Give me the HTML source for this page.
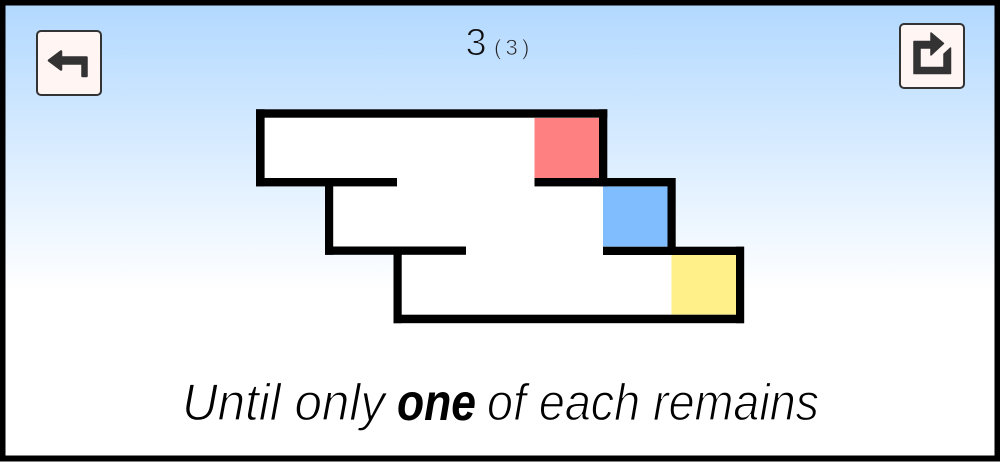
<!DOCTYPE html>
<html><head><meta charset="utf-8"><style>
html,body{margin:0;padding:0;width:1000px;height:462px;overflow:hidden;background:#fff}
svg{display:block}
text{font-family:"Liberation Sans",sans-serif}
</style></head><body>
<svg width="1000" height="462" viewBox="0 0 1000 462" xmlns="http://www.w3.org/2000/svg">
<defs><linearGradient id="g" x1="0" y1="0" x2="0" y2="1">
<stop offset="0" stop-color="#b1d8ff"/><stop offset="1" stop-color="#ffffff"/></linearGradient></defs>
<rect width="1000" height="462" fill="#fff"/>
<rect width="1000" height="292" fill="url(#g)"/>
<path fill="#fff" d="M260 113H603V182H671V250H740V319H398V250H329V182H260Z"/>
<rect x="534.5" y="118" width="64.5" height="60" fill="#ff8080"/>
<rect x="603" y="186.5" width="64.5" height="60" fill="#80bdff"/>
<rect x="671.5" y="255" width="64.5" height="59.5" fill="#fff08a"/>
<g fill="#000">
<rect x="256" y="109.3" width="351.3" height="8.4"/>
<rect x="256" y="109.3" width="8.6" height="77"/>
<rect x="256" y="178" width="141" height="8.4"/>
<rect x="325" y="178" width="8.2" height="76.8"/>
<rect x="325" y="246.5" width="141" height="8.3"/>
<rect x="393.5" y="246.5" width="8.2" height="76.7"/>
<rect x="393.5" y="314.7" width="350.5" height="8.5"/>
<rect x="599" y="109.3" width="8.3" height="77"/>
<rect x="534.5" y="178" width="141" height="8.4"/>
<rect x="667.5" y="178" width="8.2" height="77"/>
<rect x="603" y="246.7" width="141" height="8.3"/>
<rect x="736" y="246.7" width="8.2" height="76.5"/>
</g>
<rect x="37" y="31" width="64" height="64" rx="4" fill="#fff5f3" stroke="#333" stroke-width="2"/>
<path fill="#333" stroke="#333" stroke-width="2.5" stroke-linejoin="round" d="M49 60.5L61 51.5V57.5H86.5V76H82.5V63.5H61V69.5Z"/>
<rect x="900" y="24" width="64" height="64" rx="4" fill="#fff5f3" stroke="#333" stroke-width="2"/>
<path fill="#333" stroke="#333" stroke-width="1.5" stroke-linejoin="round" d="M914 41.5H931V33L943.5 43.5L931 55V48H920V67.5H944V54L950.5 48V73.5H914Z"/>
<text x="465.5" y="55" font-size="38" fill="#111" stroke="#bcdcff" stroke-width="1.1">3</text>
<text x="494" y="55" font-size="22" fill="#222" stroke="#c0deff" stroke-width="0.7">(</text>
<text x="505.5" y="55" font-size="22" fill="#222" stroke="#c0deff" stroke-width="0.7">3</text>
<text x="522" y="55" font-size="22" fill="#222" stroke="#c0deff" stroke-width="0.7">)</text>
<text x="182" y="420" font-size="52" font-style="italic" fill="#000" stroke="#fff" stroke-width="1.2" textLength="203" lengthAdjust="spacingAndGlyphs">Until only</text>
<text x="397" y="420" font-size="52" font-style="italic" font-weight="bold" fill="#000" textLength="79" lengthAdjust="spacingAndGlyphs">one</text>
<text x="487" y="420" font-size="52" font-style="italic" fill="#000" stroke="#fff" stroke-width="1.2" textLength="332" lengthAdjust="spacingAndGlyphs">of each remains</text>
<rect x="2.5" y="2.5" width="995" height="456" fill="none" stroke="#000" stroke-width="6"/>
</svg>
</body></html>
